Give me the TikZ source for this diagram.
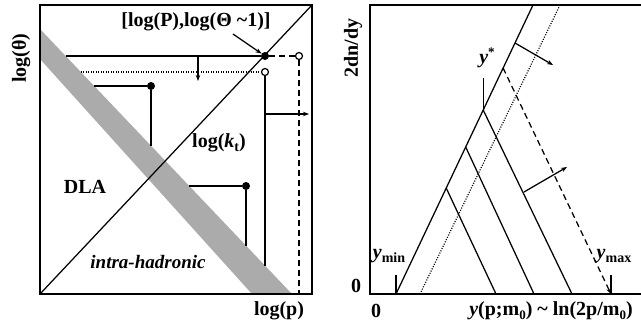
\documentclass[tikz,border=0pt]{standalone}
\usepackage{fontspec}
\setmainfont{Liberation Serif}
\usetikzlibrary{arrows.meta}
\begin{document}
\begin{tikzpicture}[x=1pt,y=-1pt,
  lbl/.style={font=\fontsize{20}{22}\selectfont\bfseries, inner sep=0pt},
  ln/.style={line width=1.25pt},
  frame/.style={line width=1.7pt},
  arr/.style={ln,-{Stealth[length=6pt,width=4.5pt]}},
  dsh/.style={ln,dash pattern=on 6pt off 4pt},
  dtd/.style={line width=1.2pt,dash pattern=on 1pt off 1.5pt},
  fdot/.style={circle,fill=black,inner sep=0pt,minimum size=8pt},
  odot/.style={circle,draw=black,fill=white,line width=1.2pt,inner sep=0pt,minimum size=7pt}]
\useasboundingbox (0,0) rectangle (641,322);
% ---------------- left panel
\fill[gray!66] (40,29) -- (292,294) -- (252,294) -- (40,59) -- cycle;
\draw[frame] (40,5) rectangle (312,294);
\coordinate (c0) at (40,294);
\coordinate (c1) at (312,5);
\draw[ln] (c0) -- (c1);
\node[fdot] (P) at (265,56) {};
\node[odot] (O1) at (299,56) {};
\node[odot] (O2) at (265,72) {};
\node[fdot] (D1) at (151,86) {};
\node[fdot] (D2) at (246,186) {};
\coordinate (h0) at (65.7,56);
\coordinate (h1) at (80.9,72);
\coordinate (h2) at (94.2,86);
\coordinate (h3) at (189.3,186);
\coordinate (v1) at (151,145.7);
\coordinate (v2) at (246,245.6);
\coordinate (v3) at (265,265.6);
\coordinate (bot) at (299,294);
\draw[ln] (h0) -- (P);
\draw[dsh] (P) -- (O1);
\draw[dsh] (O1) -- (bot);
\draw[dtd] (h1) -- (O2);
\draw[ln] (O2) -- (v3);
\draw[ln] (h2) -- (D1) -- (v1);
\draw[ln] (h3) -- (D2) -- (v2);
\coordinate (a1s) at (198,56);
\coordinate (a1e) at (198,81);
\draw[arr] (a1s) -- (a1e);
\coordinate (a2s) at (265,114);
\coordinate (a2e) at (309,114);
\draw[arr] (a2s) -- (a2e);
\node[lbl] (ltheta) at (21,58) {\rotatebox{90}{log(θ)}};
\node[lbl] (lP) at (196,22) {[log(P),log(Θ \char"7E{}1)]};
\coordinate (lPa) at (233,34);
\draw[arr] (lPa) -- (P);
\node[lbl] (lkt) at (219,143) {log(\textit{k}\raisebox{-4pt}{\fontsize{14}{14}\selectfont t})};
\node[lbl] (dla) at (85,187) {DLA};
\node[lbl,font=\fontsize{19}{21}\selectfont\bfseries\itshape] (ih) at (148,262) {intra-hadronic};
\node[lbl] (lp) at (279,311) {log(p)};
% ---------------- right panel
\draw[frame] (641,5) -- (370,5) -- (370,294) -- (641,294);
\coordinate (r0) at (396,294);
\coordinate (r1) at (533,5);
\draw[ln] (r0) -- (r1);
\coordinate (d0) at (420,294);
\coordinate (d1) at (560,5);
\draw[dtd] (d0) -- (d1);
\coordinate (ys) at (483.2,110);
\coordinate (yt) at (483.2,78);
\draw[ln] (yt) -- (ys);
\coordinate (f1s) at (446.2,188);
\coordinate (f1e) at (496,294);
\coordinate (f2s) at (465.7,147);
\coordinate (f2e) at (534,294);
\coordinate (f3e) at (572,294);
\coordinate (f4s) at (503.1,68);
\coordinate (f4e) at (611,294);
\draw[ln] (f1s) -- (f1e);
\draw[ln] (f2s) -- (f2e);
\draw[ln] (ys) -- (f3e);
\draw[dsh,-{Stealth[length=6pt,width=4.5pt]}] (f4s) -- (f4e);
\coordinate (t1a) at (396,275);
\coordinate (t2a) at (611,275);
\draw[ln] (t1a) -- (r0);
\draw[ln] (t2a) -- (f4e);
\coordinate (b1s) at (515,43);
\coordinate (b1e) at (553,65);
\draw[arr] (b1s) -- (b1e);
\coordinate (b2s) at (524,192);
\coordinate (b2e) at (567,167);
\draw[arr] (b2s) -- (b2e);
\node[lbl] (ldn) at (353,48) {\rotatebox{90}{2dn/dy}};
\node[lbl] (z1) at (356,286) {0};
\node[lbl] (z2) at (376,311) {0};
\node[lbl] (xlab) at (551,311) {\textit{y}(p;m\raisebox{-4pt}{\fontsize{13}{13}\selectfont 0}) \char"7E{} ln(2p/m\raisebox{-4pt}{\fontsize{13}{13}\selectfont 0})};
\node[lbl] (ymin) at (389,256) {\textit{y}\raisebox{-4pt}{\fontsize{14}{14}\selectfont min}};
\node[lbl] (ymax) at (614,256) {\textit{y}\raisebox{-4pt}{\fontsize{14}{14}\selectfont max}};
\node[lbl] (ystar) at (487,58) {\textit{y}\raisebox{7pt}{\fontsize{13}{13}\selectfont *}};
\end{tikzpicture}
\end{document}
